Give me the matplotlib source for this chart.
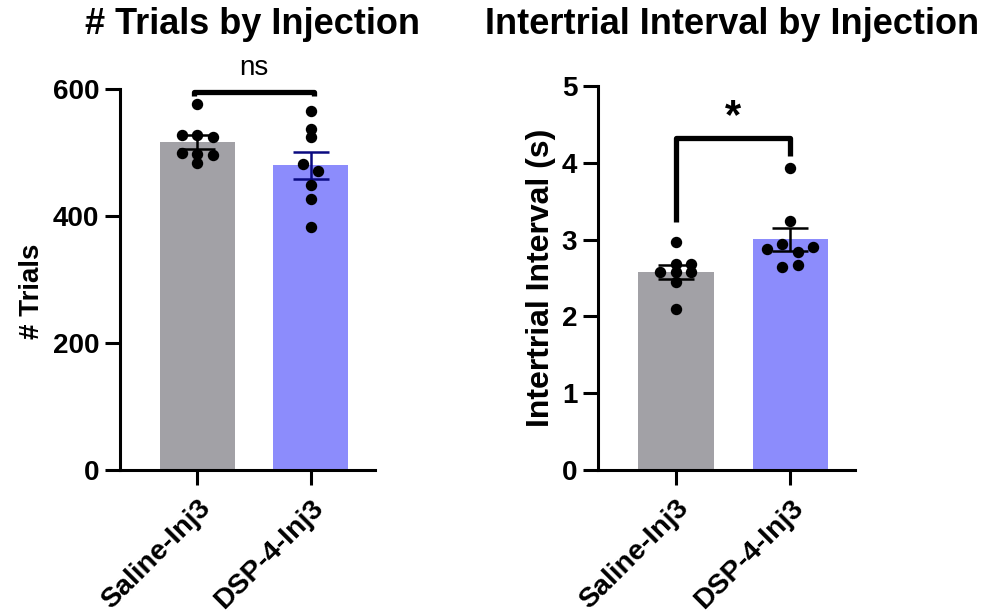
import numpy as np
import matplotlib
matplotlib.use('Agg')
import matplotlib.pyplot as plt
from matplotlib.transforms import ScaledTranslation

# Fonte parecida com Arial
matplotlib.rcParams['font.family'] = ['Liberation Sans', 'DejaVu Sans']

# Dados
grupos = ['Saline-Inj3', 'DSP-4-Inj3']

trials_saline = [576, 528, 527, 525, 500, 498, 496, 483]
trials_dsp4 = [565, 537, 524, 482, 471, 449, 427, 383]

iti_saline = [2.97, 2.68, 2.68, 2.58, 2.58, 2.58, 2.45, 2.10]
iti_dsp4 = [3.93, 3.24, 2.94, 2.90, 2.88, 2.84, 2.67, 2.64]

# Deslocamento horizontal dos pontos (layout, não dados)
jit_trials_saline = [0, -0.135, 0, 0.135, -0.135, 0, 0.135, 0]
jit_trials_dsp4 = [0, 0, 0, -0.07, 0.065, 0, 0, 0]
jit_iti_saline = [0, 0, 0.135, -0.135, 0, 0.135, 0, 0]
jit_iti_dsp4 = [0, 0, -0.07, 0.2, -0.2, 0.07, 0.07, -0.07]

cor_saline = '#A2A1A6'
cor_dsp4 = '#8C8CFC'

W, H = 990, 614
fig = plt.figure(figsize=(9.9, 6.14), dpi=100)

def px_axes(x0, x1, y0, y1):
    return fig.add_axes([x0 / W, 1 - y1 / H, (x1 - x0) / W, (y1 - y0) / H])

def painel(ax, dados, jits, ylim, yticks, erro_cores):
    cores = [cor_saline, cor_dsp4]
    for i, (vals, jit) in enumerate(zip(dados, jits)):
        vals = np.array(vals)
        media = vals.mean()
        sem = vals.std(ddof=1) / np.sqrt(len(vals))
        ax.bar(i, media, width=0.66, color=cores[i], zorder=1)
        ax.errorbar(i, media, yerr=sem, color=erro_cores[i], capsize=13,
                    capthick=1.8, elinewidth=1.8, zorder=2)
        ax.plot(i + np.array(jit), vals, 'o', color='black', markersize=7.2,
                zorder=3, clip_on=False)
    ax.set_xlim(-0.68, 1.565)
    ax.set_ylim(*ylim)
    ax.set_yticks(yticks)
    ax.set_xticks([0, 1])
    ax.set_xticklabels(grupos, rotation=45, ha='right', va='top',
                       rotation_mode='anchor', fontsize=20.5, fontweight='bold')
    # pequeno deslocamento para a esquerda dos rótulos inclinados
    desloc = ScaledTranslation(-5 / 72, 0, fig.dpi_scale_trans)
    for lab in ax.get_xticklabels():
        lab.set_transform(lab.get_transform() + desloc)
    for lab in ax.get_yticklabels():
        lab.set_fontsize(20)
        lab.set_fontweight('bold')
    for s in ['top', 'right']:
        ax.spines[s].set_visible(False)
    for s in ['left', 'bottom']:
        ax.spines[s].set_linewidth(2.2)
    ax.tick_params(axis='both', width=2.2, length=11, pad=4)
    ax.tick_params(axis='x', pad=7)

# Painel 1: número de tentativas
ax1 = px_axes(120, 375, 89, 470)
painel(ax1, [trials_saline, trials_dsp4],
       [jit_trials_saline, jit_trials_dsp4],
       (0, 600), [0, 200, 400, 600], ['black', '#0A0A80'])
ax1.set_ylabel('# Trials', fontsize=20, fontweight='bold')
ax1.yaxis.set_label_coords(-0.295, 0.47)
ax1.plot([-0.03, -0.03, 1.03, 1.03], [589, 595, 595, 589], color='black',
         lw=3.8, clip_on=False, solid_capstyle='butt')
ax1.text(0.5, 613, 'ns', ha='center', va='bottom', fontsize=20)

# Painel 2: intervalo entre tentativas
ax2 = px_axes(598, 855, 86, 470)
painel(ax2, [iti_saline, iti_dsp4],
       [jit_iti_saline, jit_iti_dsp4],
       (0, 5), [0, 1, 2, 3, 4, 5], ['black', 'black'])
ax2.set_ylabel('Intertrial Interval (s)', fontsize=23, fontweight='bold')
ax2.yaxis.set_label_coords(-0.165, 0.5)
ax2.plot([0, 0, 1, 1], [3.23, 4.32, 4.32, 4.09], color='black', lw=3.8,
         clip_on=False, solid_capstyle='butt')
ax2.text(0.5, 4.33, '*', ha='center', va='bottom', fontsize=30,
         fontweight='bold')

# Títulos
fig.text(253 / W, 1 - 34 / H, '# Trials by Injection', ha='center',
         va='baseline', fontsize=26, fontweight='bold')
fig.text(732 / W, 1 - 34 / H, 'Intertrial Interval by Injection', ha='center',
         va='baseline', fontsize=26, fontweight='bold')

fig.savefig('out.png', dpi=100)
